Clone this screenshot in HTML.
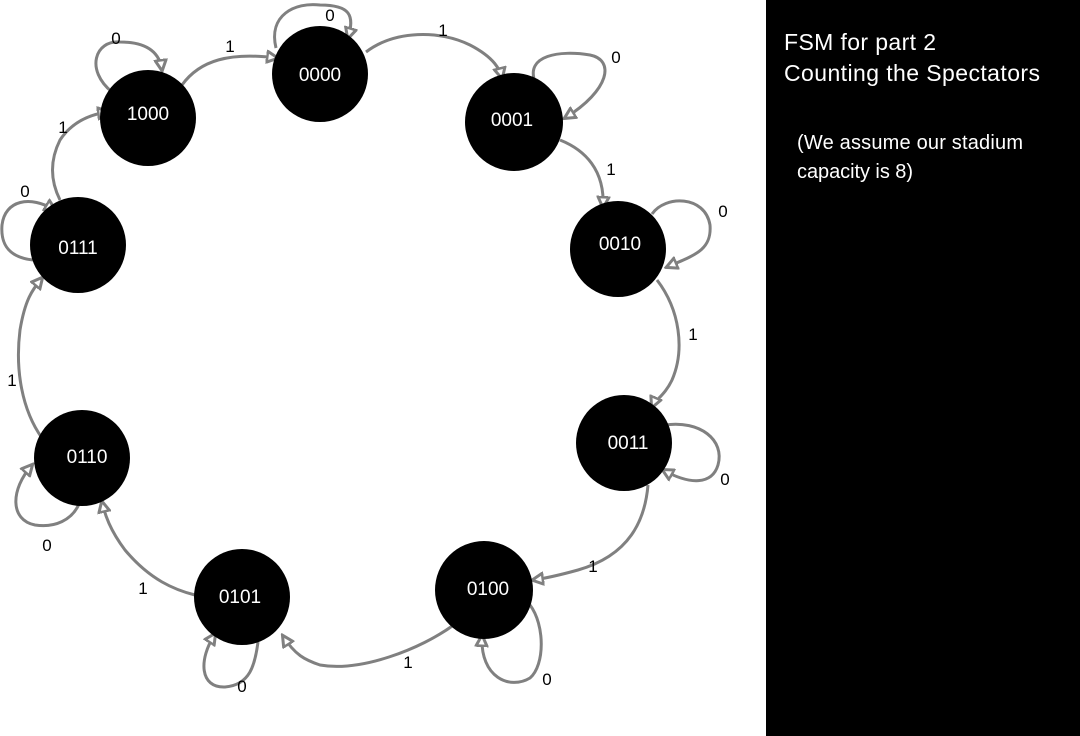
<!DOCTYPE html>
<html><head><meta charset="utf-8"><style>
html,body{margin:0;padding:0;background:#fff;}
svg{display:block}
text{font-family:"Liberation Sans",sans-serif;}
</style></head><body>
<svg width="1080" height="736" viewBox="0 0 1080 736" xmlns="http://www.w3.org/2000/svg">
<defs>
<marker id="a" markerWidth="14" markerHeight="14" refX="11" refY="7" orient="auto" markerUnits="userSpaceOnUse">
<path d="M1,1.5 L12,7 L1,12.5 Z" fill="#fff" stroke="#808080" stroke-width="3"/>
</marker>
</defs>
<rect x="766" y="0" width="314" height="736" fill="#000"/>
<text x="784" y="50" fill="#fff" font-size="23" textLength="152">FSM for part 2</text>
<text x="784" y="81" fill="#fff" font-size="23" textLength="256">Counting the Spectators</text>
<text x="797" y="149" fill="#fff" font-size="20" textLength="226">(We assume our stadium</text>
<text x="797" y="178" fill="#fff" font-size="20" textLength="116">capacity is 8)</text>

<g fill="none" stroke="#808080" stroke-width="3">
<path d="M112,92 C85,70 95,40 120,42 C150,42 160,55 162,70" marker-end="url(#a)"/>
<path d="M276,48 C268,15 295,2 320,5 C350,5 355,15 348,38" marker-end="url(#a)"/>
<path d="M535,82 C525,55 560,50 590,55 C615,60 610,90 565,118" marker-end="url(#a)"/>
<path d="M652,214 C665,195 705,195 710,225 C712,250 695,255 667,267" marker-end="url(#a)"/>
<path d="M665,425 C700,420 725,440 718,465 C712,485 690,485 663,470" marker-end="url(#a)"/>
<path d="M530,605 C545,625 545,665 530,678 C510,690 480,678 482,636" marker-end="url(#a)"/>
<path d="M258,642 C255,665 250,685 225,687 C200,688 198,660 215,634" marker-end="url(#a)"/>
<path d="M79,504 C72,520 55,528 35,525 C10,520 10,490 32,465" marker-end="url(#a)"/>
<path d="M33,260 C15,258 0,250 2,225 C5,200 30,195 55,210" marker-end="url(#a)"/>
<path d="M182,85 C200,60 230,52 277,58" marker-end="url(#a)"/>
<path d="M366,52 C395,30 440,30 470,45 C495,58 500,70 502,78" marker-end="url(#a)"/>
<path d="M560,140 C585,150 605,170 603,207" marker-end="url(#a)"/>
<path d="M657,280 C680,310 685,350 672,380 C665,395 655,400 652,407" marker-end="url(#a)"/>
<path d="M648,485 C645,520 630,555 578,570 C560,575 548,578 533,580" marker-end="url(#a)"/>
<path d="M455,624 C420,650 360,672 320,665 C305,660 295,655 283,636" marker-end="url(#a)"/>
<path d="M195,595 C175,590 150,580 125,550 C110,530 105,515 102,502" marker-end="url(#a)"/>
<path d="M42,438 C22,410 15,370 20,330 C25,300 32,290 42,278" marker-end="url(#a)"/>
<path d="M60,200 C50,180 50,160 60,140 C70,125 85,115 108,112" marker-end="url(#a)"/>
</g>

<g fill="#000">
<circle cx="148" cy="118" r="48"/>
<circle cx="320" cy="74" r="48"/>
<circle cx="514" cy="122" r="49"/>
<circle cx="618" cy="249" r="48"/>
<circle cx="624" cy="443" r="48"/>
<circle cx="484" cy="590" r="49"/>
<circle cx="242" cy="597" r="48"/>
<circle cx="82" cy="458" r="48"/>
<circle cx="78" cy="245" r="48"/>
</g>
<g fill="#fff" font-size="19" text-anchor="middle">
<text x="148" y="120">1000</text>
<text x="320" y="81">0000</text>
<text x="512" y="126">0001</text>
<text x="620" y="250">0010</text>
<text x="628" y="449">0011</text>
<text x="488" y="595">0100</text>
<text x="240" y="603">0101</text>
<text x="87" y="463">0110</text>
<text x="78" y="254">0111</text>
</g>
<g fill="#000" font-size="17" text-anchor="middle">
<text x="116" y="44">0</text>
<text x="230" y="52">1</text>
<text x="330" y="21">0</text>
<text x="443" y="36">1</text>
<text x="616" y="63">0</text>
<text x="611" y="175">1</text>
<text x="723" y="217">0</text>
<text x="693" y="340">1</text>
<text x="725" y="485">0</text>
<text x="593" y="572">1</text>
<text x="547" y="685">0</text>
<text x="408" y="668">1</text>
<text x="242" y="692">0</text>
<text x="143" y="594">1</text>
<text x="47" y="551">0</text>
<text x="12" y="386">1</text>
<text x="25" y="197">0</text>
<text x="63" y="133">1</text>
</g>
</svg>
</body></html>
